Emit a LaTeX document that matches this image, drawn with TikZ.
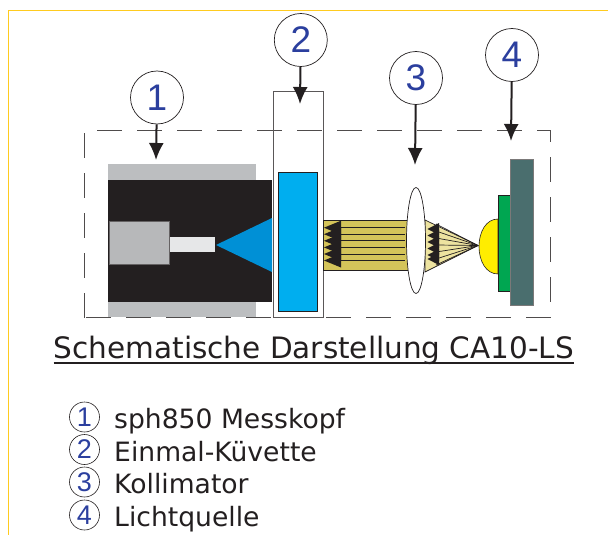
\documentclass[tikz,border=0pt]{standalone}
\usepackage{fontspec}
\setmainfont{DejaVu Sans}
\newfontfamily\numfont{Liberation Sans}
\usetikzlibrary{arrows.meta}
\definecolor{ink}{HTML}{231F20}
\definecolor{numblue}{HTML}{2B3F9E}
\definecolor{framey}{HTML}{FFCB1F}
\definecolor{shell}{HTML}{BCBEC0}
\definecolor{core}{HTML}{B7B8BA}
\definecolor{pale}{HTML}{E6E7E8}
\definecolor{cone}{HTML}{0090D6}
\definecolor{cuv}{HTML}{00AEEF}
\definecolor{beam}{HTML}{D4C45A}
\definecolor{beamlt}{HTML}{EDE3A0}
\definecolor{led}{HTML}{FFED00}
\definecolor{grn}{HTML}{00A651}
\definecolor{teal}{HTML}{4A6E6E}
\tikzset{
  bigcirc/.style={circle,draw=ink,line width=0.7pt,fill=white,minimum size=53pt,inner sep=0pt,text=numblue,font=\numfont\fontsize{37}{37}\selectfont},
  smallcirc/.style={circle,draw=ink,line width=0.6pt,minimum size=30pt,inner sep=0pt,text=numblue,font=\numfont\fontsize{27}{27}\selectfont},
  callout/.style={ink,line width=2pt,-{Latex[length=17pt,width=15pt]}},
  legendtext/.style={anchor=base west,text=ink,inner sep=0pt,font=\fontsize{26.6}{26.6}\selectfont},
  ray/.style={ink,line width=0.8pt},
  headL/.style={fill=ink,draw=none},
}
\begin{document}
\begin{tikzpicture}[x=1pt,y=-1pt]
\useasboundingbox (0,0) rectangle (608,535);
% yellow page edge
\draw[framey,line width=1pt] (8.5,535) -- (8.5,10.5) -- (608,10.5);
% dashed housing
\draw[ink!80,line width=1pt,dash pattern=on 25pt off 15pt] (84.5,317.5) -- (84.5,130) -- (550,130) -- (550,317.5) -- cycle;
% probe head
\fill[shell] (108,164) rectangle (256,181);
\fill[shell] (108,300) rectangle (256,317);
\fill[ink] (108,180) rectangle (272,302);
\draw[fill=core,draw=ink!70,line width=0.7pt] (109,221) rectangle (169,264);
\fill[pale] (170,237) rectangle (214.5,252);
\fill[cone] (216,245) -- (272,218) -- (272,272) -- cycle;
% cuvette
\draw[ink!75,line width=0.8pt] (273,91) rectangle (323,317.5);
\draw[fill=cuv,draw=ink,line width=0.7pt] (278.5,172) rectangle (317,311);
% collimated beam
\draw[fill=beam,draw=ink,line width=0.7pt] (323,220) rectangle (409,270);
\foreach \yy in {227.7,234.2,240.8,247.4,254,260.5}{
  \draw[ray] (335,\yy) -- (405,\yy);
  \fill[headL] (324,\yy) -- (341,\yy-7) -- (341,\yy+7) -- cycle;
}
% converging cone
\draw[fill=beamlt,draw=ink,line width=0.7pt] (425,220) -- (478,245.5) -- (425,272) -- cycle;
\foreach \yy in {224,231,238,245,252,259,265}{
  \draw[ink,line width=0.7pt] (436,\yy) -- (478,245.5);
}
\foreach \yy in {229,235.5,242,248.5,255,259}{
  \fill[headL] (427.5,\yy) -- (439,\yy-6) -- (439,\yy+6) -- cycle;
}
% lens
\draw[fill=white,draw=ink,line width=0.7pt] (416,240.5) ellipse (9.5 and 53);
% light source
\draw[fill=led,draw=ink,line width=0.6pt] (498,219) .. controls (486,219) and (479,232) .. (479,246.5) .. controls (479,261) and (486,274) .. (498,274) -- cycle;
\draw[fill=grn,draw=ink,line width=0.6pt] (498,195.5) rectangle (510,291);
\draw[fill=teal,draw=ink!60,line width=0.7pt] (510,159) rectangle (533,305);
% callouts
\coordinate (t1) at (156,160);
\coordinate (t2) at (300,104);
\coordinate (t3) at (415,165);
\coordinate (t4) at (511,141);
\node[bigcirc] (c1) at (157,97.5) {1};
\node[bigcirc] (c2) at (300.8,40) {2};
\node[bigcirc] (c3) at (416,78) {3};
\node[bigcirc] (c4) at (512,55) {4};
\draw[callout] (c1) -- (t1);
\draw[callout] (c2) -- (t2);
\draw[callout] (c3) -- (t3);
\draw[callout] (c4) -- (t4);
% title
\node[anchor=base,text=ink,inner sep=0pt,font=\fontsize{29.5}{29.5}\selectfont] (title) at (314,358) {Schematische Darstellung CA10-LS};
\draw[ink,line width=1.8pt] ([yshift=-4.7pt]title.base west) -- ([yshift=-4.7pt]title.base east);
% legend
\node[smallcirc] (l1) at (84.5,417) {1};
\node[smallcirc] (l2) at (84.5,449.5) {2};
\node[smallcirc] (l3) at (84.5,482) {3};
\node[smallcirc] (l4) at (84.5,515) {4};
\node[legendtext] (s1) at (114,428.5) {sph850 Messkopf};
\node[legendtext] (s2) at (114,461.5) {Einmal-Küvette};
\node[legendtext] (s3) at (114,493.5) {Kollimator};
\node[legendtext] (s4) at (114,526) {Lichtquelle};
\end{tikzpicture}
\end{document}
